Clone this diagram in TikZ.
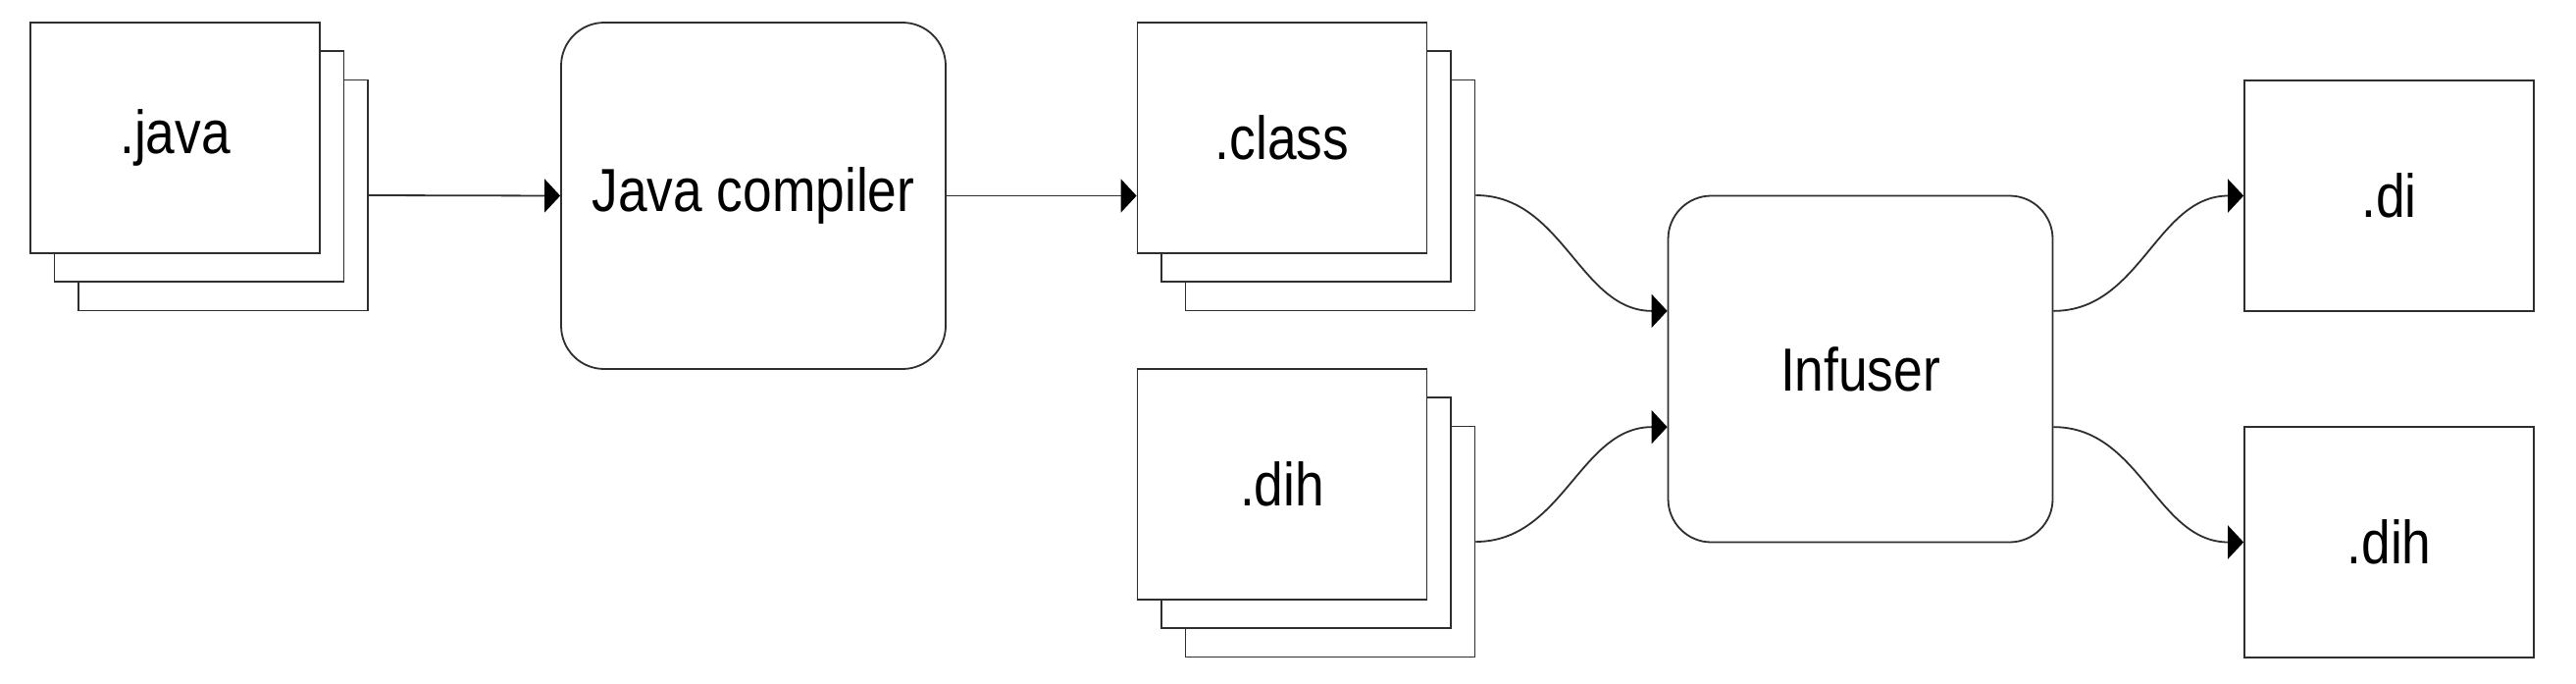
\documentclass[tikz,border=0pt]{standalone}
\usepackage{fontspec}
\setmainfont{Liberation Sans}[FakeStretch=0.86]
\usetikzlibrary{arrows.meta,calc}
\definecolor{linec}{gray}{0.18}
\begin{document}
\begin{tikzpicture}[x=0.5pt,y=-0.5pt,
  lbl/.style={font=\fontsize{31pt}{36pt}\selectfont},
  doc/.style={draw=linec, line width=0.9pt, fill=white, minimum width=147.5pt, minimum height=117.5pt, inner sep=0pt, lbl},
  proc/.style={draw=linec, line width=0.9pt, fill=white, rounded corners=22pt, minimum width=196pt, minimum height=176.5pt, inner sep=0pt, lbl},
  conn/.style={draw=linec, line width=0.9pt, -{Triangle[length=8pt,width=17pt,fill=black,color=black]}}
]
\useasboundingbox (0,0) rectangle (2626,696);

% .java stack
\node[doc] (javaC) at (227.5,199) {};
\node[doc] (javaB) at (203,169.5) {};
\node[doc] (javaA) at (178.5,140.5) {.java};

% compiler
\node[proc] (compiler) at (768,199.5) {Java compiler};

% .class stack
\node[doc] (classC) at (1356,199) {};
\node[doc] (classB) at (1331.5,169.5) {};
\node[doc] (classA) at (1307,140.5) {.class};

% .dih stack
\node[doc] (dihC) at (1356,552) {};
\node[doc] (dihB) at (1331.5,522.5) {};
\node[doc] (dihA) at (1307,493.5) {.dih};

% infuser
\node[proc] (infuser) at (1896.5,376) {Infuser};

% outputs
\node[doc] (di) at (2435.5,199.5) {.di};
\node[doc] (dihout) at (2435.5,552.5) {.dih};

\coordinate (inA) at ($(infuser.north west)!1/3!(infuser.south west)$);
\coordinate (inB) at ($(infuser.north west)!2/3!(infuser.south west)$);
\coordinate (outA) at ($(infuser.north east)!1/3!(infuser.south east)$);
\coordinate (outB) at ($(infuser.north east)!2/3!(infuser.south east)$);

\draw[conn] (javaC.east) -- (compiler.west);
\draw[conn] (compiler.east) -- (compiler.east -| classA.west);
\draw[conn] (classC.east) to[out=0,in=180] (inA);
\draw[conn] (dihC.east) to[out=0,in=180] (inB);
\draw[conn] (outA) to[out=0,in=180] (di.west);
\draw[conn] (outB) to[out=0,in=180] (dihout.west);
\end{tikzpicture}
\end{document}
